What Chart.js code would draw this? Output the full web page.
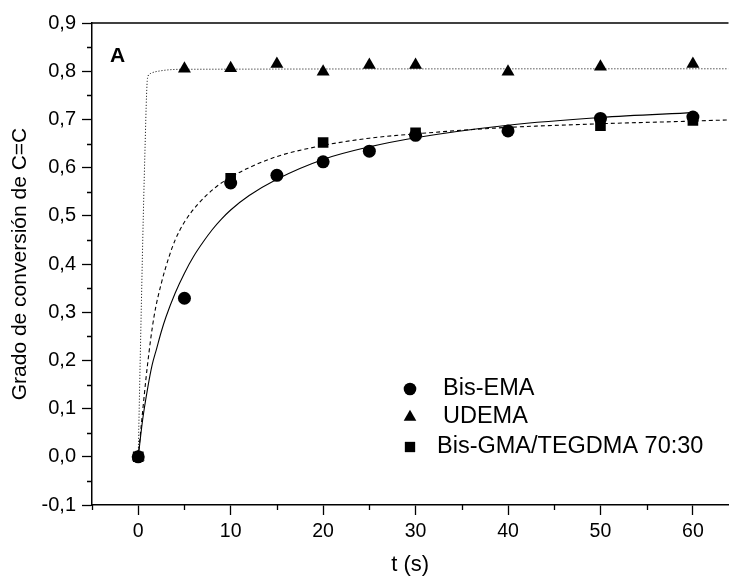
<!DOCTYPE html>
<html>
<head>
<meta charset="utf-8">
<script src="https://cdn.jsdelivr.net/npm/chart.js@4.4.0/dist/chart.umd.min.js"></script>
<style>
    html, body { margin: 0; padding: 0; background: #fff; }
    #wrap { width: 736px; height: 578px; }
</style>
</head>
<body>
<div id="wrap"><canvas id="conversionChart" width="736" height="578"></canvas></div>
<script>
// puntos medidos
const bisEmaT = [0, 5, 10, 15, 20, 25, 30, 40, 50, 60];
const bisEmaV = [0, 0.329, 0.568, 0.584, 0.612, 0.634, 0.667, 0.676, 0.702, 0.705];

const udemaT = [0, 5, 10, 15, 20, 25, 30, 40, 50, 60];
const udemaV = [0, 0.805, 0.806, 0.815, 0.799, 0.813, 0.813, 0.799, 0.809, 0.815];

const bisGmaT = [0, 10, 20, 30, 50, 60];
const bisGmaV = [0, 0.578, 0.652, 0.672, 0.687, 0.698];

// curvas de ajuste
const bisEmaFitT = [0, 0.5, 1, 1.5, 2, 2.5, 3, 4, 5, 6, 7, 8, 9, 10, 12, 15, 20, 25, 30, 40, 50, 60];
const bisEmaFitV = [0, 0.08, 0.14, 0.19, 0.225, 0.26, 0.29, 0.34, 0.381, 0.416, 0.445, 0.471, 0.493, 0.512, 0.542, 0.576, 0.617, 0.643, 0.662, 0.688, 0.704, 0.714];

const udemaFitT = [0, 0.17, 0.35, 0.55, 0.75, 0.9, 1.0, 1.3, 2.5, 5, 63.85];
const udemaFitV = [0, 0.16, 0.325, 0.5, 0.65, 0.75, 0.785, 0.795, 0.801, 0.804, 0.805];

const bisGmaFitT = [0, 0.3, 1, 1.7, 2.5, 3.3, 4, 5, 6.5, 8.3, 10, 12, 15, 20, 25, 30, 38.6, 50, 60, 63.85];
const bisGmaFitV = [0, 0.06, 0.19, 0.29, 0.36, 0.413, 0.45, 0.487, 0.525, 0.558, 0.58, 0.6, 0.623, 0.646, 0.661, 0.67, 0.682, 0.691, 0.6965, 0.699];

// ejes
const xTicks = [0, 10, 20, 30, 40, 50, 60];
const xMinorTicks = [-5, 5, 15, 25, 35, 45, 55];
const yTicks = [-0.1, 0, 0.1, 0.2, 0.3, 0.4, 0.5, 0.6, 0.7, 0.8, 0.9];
const yMinorTicks = [-0.05, 0.05, 0.15, 0.25, 0.35, 0.45, 0.55, 0.65, 0.75, 0.85];

const legendNames = ['Bis-EMA', 'UDEMA', 'Bis-GMA/TEGDMA 70:30'];

function pairs(xs, ys) {
    return xs.map((x, i) => ({ x: x, y: ys[i] }));
}

const FONT = "'Liberation Sans', Arial, sans-serif";
Chart.defaults.font.family = FONT;
Chart.defaults.color = '#000';

// ticks menores, marco superior, leyenda y letra "A"
const extras = {
    id: 'extras',
    afterDraw(chart) {
        const ctx = chart.ctx;
        const xs = chart.scales.x;
        const ys = chart.scales.y;
        const area = chart.chartArea;
        ctx.save();
        ctx.strokeStyle = '#000';
        ctx.lineWidth = 1.3;
        ctx.beginPath();
        xMinorTicks.forEach(v => {
            const px = Math.round(xs.getPixelForValue(v)) + 0.5;
            ctx.moveTo(px, area.bottom);
            ctx.lineTo(px, area.bottom + 5);
        });
        yMinorTicks.forEach(v => {
            const py = Math.round(ys.getPixelForValue(v)) + 0.5;
            ctx.moveTo(area.left, py);
            ctx.lineTo(area.left - 5, py);
        });
        ctx.stroke();

        ctx.lineWidth = 1.5;
        ctx.beginPath();
        ctx.moveTo(area.left, area.top);
        ctx.lineTo(area.right, area.top);
        ctx.stroke();

        // leyenda
        const styles = ['circle', 'triangle', 'rect'];
        const radii = [6.3, 7.3, 7.3];
        const rows = [388, 416, 446];
        const textX = [443, 443, 437];
        ctx.fillStyle = '#000';
        ctx.font = '23.5px ' + FONT;
        ctx.textBaseline = 'middle';
        styles.forEach((s, i) => {
            Chart.helpers.drawPoint(ctx, {
                pointStyle: s, radius: radii[i], rotation: 0, borderWidth: 0
            }, 410, rows[i] + 1);
            ctx.fillText(legendNames[i], textX[i], rows[i] + 1);
        });

        ctx.font = 'bold 21px ' + FONT;
        ctx.textBaseline = 'alphabetic';
        ctx.fillText('A', area.left + 18, 62);
        ctx.restore();
    }
};

const ctx = document.getElementById('conversionChart');
new Chart(ctx, {
    type: 'scatter',
    data: {
        datasets: [
            {
                label: 'Bis-EMA',
                data: pairs(bisEmaT, bisEmaV),
                pointStyle: 'circle',
                pointRadius: 6.5,
                backgroundColor: '#000',
                borderWidth: 0
            },
            {
                label: 'UDEMA',
                data: pairs(udemaT, udemaV),
                pointStyle: 'triangle',
                pointRadius: 7.5,
                backgroundColor: '#000',
                borderWidth: 0
            },
            {
                label: 'Bis-GMA/TEGDMA 70:30',
                data: pairs(bisGmaT, bisGmaV),
                pointStyle: 'rect',
                pointRadius: 7.5,
                backgroundColor: '#000',
                borderWidth: 0
            },
            {
                label: 'ajuste Bis-EMA',
                data: pairs(bisEmaFitT, bisEmaFitV),
                showLine: true,
                pointRadius: 0,
                borderColor: '#000',
                borderWidth: 1.1,
                cubicInterpolationMode: 'monotone'
            },
            {
                label: 'ajuste UDEMA',
                data: pairs(udemaFitT, udemaFitV),
                showLine: true,
                pointRadius: 0,
                borderColor: '#000',
                borderWidth: 1,
                borderDash: [1, 2],
                cubicInterpolationMode: 'monotone'
            },
            {
                label: 'ajuste Bis-GMA',
                data: pairs(bisGmaFitT, bisGmaFitV),
                showLine: true,
                pointRadius: 0,
                borderColor: '#000',
                borderWidth: 1.1,
                borderDash: [4, 3],
                cubicInterpolationMode: 'monotone'
            }
        ]
    },
    options: {
        responsive: false,
        animation: false,
        devicePixelRatio: 1,
        layout: { padding: { top: 23, left: 0, right: 0, bottom: 0 } },
        plugins: {
            legend: { display: false },
            tooltip: { enabled: false }
        },
        scales: {
            x: {
                type: 'linear',
                min: -5,
                max: 63.85,
                afterBuildTicks: s => { s.ticks = xTicks.map(v => ({ value: v })); },
                afterFit: s => { s.height = 73; },
                ticks: {
                    font: { size: 19.5 },
                    color: '#000',
                    padding: 5,
                    maxRotation: 0,
                    callback: v => String(v)
                },
                grid: {
                    drawOnChartArea: false,
                    drawTicks: true,
                    tickLength: 10,
                    tickColor: '#000',
                    tickWidth: 1.3
                },
                border: { color: '#000', width: 1.5 },
                title: {
                    display: true,
                    text: 't (s)',
                    font: { size: 22 },
                    color: '#000',
                    padding: { top: 0, bottom: 0 }
                }
            },
            y: {
                type: 'linear',
                min: -0.1,
                max: 0.9,
                afterBuildTicks: s => { s.ticks = yTicks.map(v => ({ value: v })); },
                afterFit: s => { s.width = 92; },
                ticks: {
                    font: { size: 20 },
                    color: '#000',
                    padding: 6,
                    callback: v => v.toFixed(1).replace('.', ',')
                },
                grid: {
                    drawOnChartArea: false,
                    drawTicks: true,
                    tickLength: 10,
                    tickColor: '#000',
                    tickWidth: 1.3
                },
                border: { color: '#000', width: 1.5 },
                title: {
                    display: true,
                    text: 'Grado de conversión de C=C',
                    font: { size: 21 },
                    color: '#000',
                    padding: { top: 8, bottom: 0 }
                }
            }
        }
    },
    plugins: [extras]
});
</script>
</body>
</html>
